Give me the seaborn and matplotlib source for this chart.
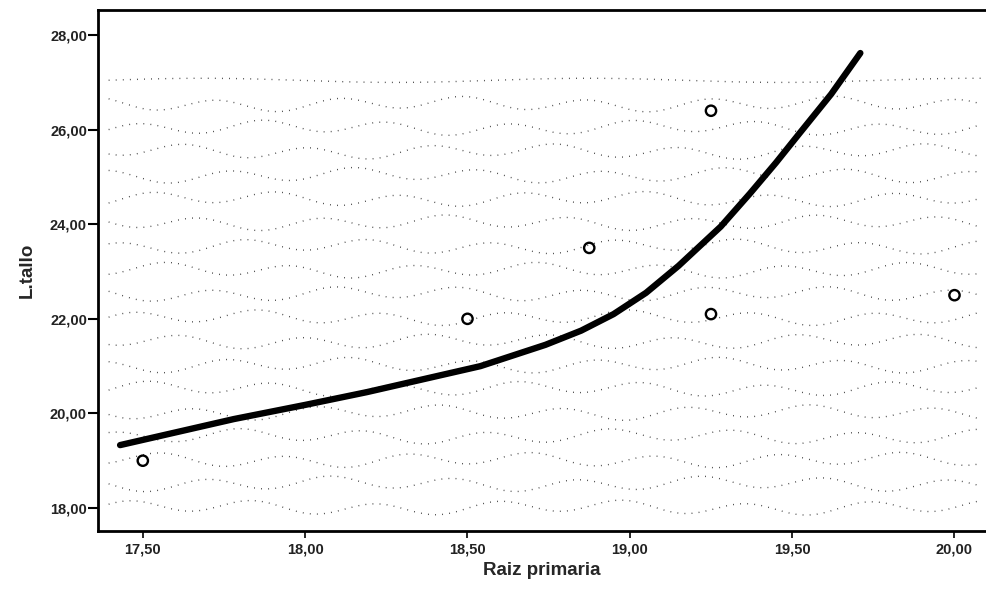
import numpy as np
import pandas as pd
import matplotlib
matplotlib.use("Agg")
import matplotlib.pyplot as plt
import seaborn as sns

# Observed points
raiz = [17.50, 18.50, 18.875, 19.25, 19.25, 20.00]
tallo = [19.0, 22.0, 23.5, 26.4, 22.1, 22.5]

# Fitted curve
fit_x = [17.43, 17.78, 18.00, 18.19, 18.54, 18.74, 18.85, 18.95, 19.05, 19.15, 19.28, 19.37, 19.45, 19.52, 19.62, 19.71]
fit_y = [19.33, 19.88, 20.18, 20.45, 21.00, 21.45, 21.75, 22.10, 22.55, 23.12, 23.95, 24.65, 25.30, 25.90, 26.75, 27.62]

xticks = [17.5, 18.0, 18.5, 19.0, 19.5, 20.0]
yticks = [18, 20, 22, 24, 26, 28]

sns.set_style("white")
plt.rcParams["font.family"] = ["Liberation Sans", "DejaVu Sans"]

fig = plt.figure(figsize=(9.87, 5.89), dpi=100)
ax = fig.add_axes([0.0993, 0.0985, 0.9, 0.8845])

# background dotted wave texture (decorative)
rows = np.linspace(0.045, 0.865, 19)
tt = np.linspace(0.012, 0.995, 500)
for i, r in enumerate(rows):
    amp = 0.0 if i == len(rows) - 1 else 0.011
    yy = r + amp * np.sin(2 * np.pi * (tt * 7.2 + i * 0.37)) \
        + 0.004 * np.sin(2 * np.pi * (tt * 2.3 + i * 0.61))
    ax.plot(tt, yy, transform=ax.transAxes, color="#333333", lw=1.0,
            linestyle=(0, (0.6, 4.5)), zorder=0.5)

df_pts = pd.DataFrame({"Raiz primaria": raiz, "L.tallo": tallo})
df_fit = pd.DataFrame({"x": fit_x, "y": fit_y})

sns.lineplot(data=df_fit, x="x", y="y", ax=ax, color="black", linewidth=4.6,
             sort=False, estimator=None, solid_capstyle="round", zorder=3)
sns.scatterplot(data=df_pts, x="Raiz primaria", y="L.tallo", ax=ax, s=55,
                facecolor="none", edgecolor="black", linewidth=1.7, zorder=4)

ax.set_xlim(17.362, 20.098)
ax.set_ylim(17.514, 28.53)
ax.set_xticks(xticks)
ax.set_yticks(yticks)
ax.set_xticklabels([f"{v:.2f}".replace(".", ",") for v in xticks], fontsize=10.5, fontweight="bold", color="#222222")
ax.set_yticklabels([f"{v:.2f}".replace(".", ",") for v in yticks], fontsize=10.5, fontweight="bold", color="#222222")
ax.tick_params(axis="y", direction="out", length=7, width=1.5, color="black", pad=1, left=True)
ax.tick_params(axis="x", direction="out", length=5, width=1.2, color="black", pad=3, bottom=True)

for s in ["left", "bottom", "top"]:
    ax.spines[s].set_visible(True)
    ax.spines[s].set_color("black")
    ax.spines[s].set_linewidth(2.0)
ax.spines["right"].set_visible(False)

ax.set_xlabel("Raiz primaria", fontsize=13.5, fontweight="bold", labelpad=4)
ax.set_ylabel("L.tallo", fontsize=13.5, fontweight="bold", labelpad=10)

fig.savefig("out.png", dpi=100, facecolor="white")
